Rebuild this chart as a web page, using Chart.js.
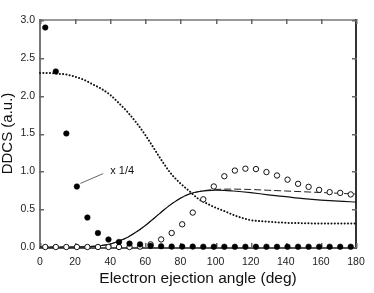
<!DOCTYPE html>
<html>
<head>
<meta charset="utf-8">
<script src="https://cdn.jsdelivr.net/npm/chart.js@4/dist/chart.umd.min.js"></script>
<style>
  html, body { margin: 0; padding: 0; background: #fff; }
</style>
</head>
<body>
<canvas id="ddcsChart" width="374" height="293"></canvas>
<script>
// measured points (every 6 deg)
const dotAngles = [3, 9, 15, 21, 27, 33, 39, 45, 51, 57, 63, 69, 75, 81, 87, 93, 99, 105, 111, 117, 123, 129, 135, 141, 147, 153, 159, 165, 171, 177];
const filledDots = [2.9, 2.32, 1.5, 0.8, 0.39, 0.185, 0.1, 0.066, 0.045, 0.035, 0.015, 0.01, 0.006, 0.005, 0.005, 0.004, 0.004, 0.004, 0.004, 0.004, 0.004, 0.004, 0.004, 0.004, 0.004, 0.004, 0.004, 0.004, 0.004, 0.004];
const openDots = [0, 0, 0, 0, 0, 0, 0, 0, 0, 0.005, 0.035, 0.1, 0.185, 0.3, 0.455, 0.63, 0.8, 0.935, 1.01, 1.035, 1.03, 0.99, 0.945, 0.89, 0.835, 0.795, 0.755, 0.725, 0.715, 0.695];

// theory curves
const lineAngles = [0, 5, 10, 15, 20, 25, 30, 35, 40, 45, 50, 55, 60, 65, 70, 75, 80, 85, 90, 95, 100, 105, 110, 115, 120, 130, 140, 150, 160, 170, 180];
const dottedCurve = [2.30, 2.30, 2.29, 2.28, 2.25, 2.21, 2.15, 2.09, 2.01, 1.90, 1.78, 1.64, 1.48, 1.30, 1.12, 0.96, 0.84, 0.74, 0.64, 0.575, 0.52, 0.475, 0.425, 0.385, 0.355, 0.335, 0.32, 0.315, 0.31, 0.31, 0.31];
const solidCurve = [0, 0, 0, 0, 0, 0.003, 0.008, 0.02, 0.04, 0.08, 0.13, 0.2, 0.285, 0.38, 0.48, 0.57, 0.645, 0.7, 0.73, 0.745, 0.75, 0.748, 0.74, 0.73, 0.718, 0.69, 0.665, 0.64, 0.62, 0.605, 0.595];
const dashedCurve = [0, 0, 0, 0, 0, 0.003, 0.008, 0.02, 0.04, 0.08, 0.13, 0.2, 0.285, 0.38, 0.48, 0.57, 0.645, 0.7, 0.73, 0.75, 0.76, 0.765, 0.765, 0.763, 0.76, 0.75, 0.74, 0.73, 0.72, 0.71, 0.70];

// label pointer "x 1/4"
const pointerX = [23, 36];
const pointerY = [0.84, 0.97];
const noteText = 'x 1/4';
const noteAt = { x: 40, y: 1.0 };

const xTicks = [0, 20, 40, 60, 80, 100, 120, 140, 160, 180];
const yTicks = [0, 0.5, 1.0, 1.5, 2.0, 2.5, 3.0];

const FONT = '"Liberation Sans", Arial, sans-serif';

const zip = (xs, ys) => xs.map((x, i) => ({ x: x, y: ys[i] }));

// box frame with inward ticks on all four sides (under the data), plus the "x 1/4" note
const framePlugin = {
  id: 'frame',
  beforeDatasetsDraw(chart) {
    const ctx = chart.ctx;
    const xs = chart.scales.x, ys = chart.scales.y;
    const l = Math.round(xs.getPixelForValue(0)) - 1;
    const r = Math.round(xs.getPixelForValue(180)) - 1;
    const t = Math.round(ys.getPixelForValue(3)) - 1;
    const b = Math.round(ys.getPixelForValue(0));
    ctx.save();
    ctx.fillStyle = '#999';
    ctx.fillRect(l, t, r - l + 2, 2);
    ctx.fillStyle = '#777';
    ctx.fillRect(l, t, 2, b - t + 2);
    ctx.fillStyle = '#555';
    ctx.fillRect(l, b, r - l + 2, 2);
    ctx.fillStyle = '#333';
    ctx.fillRect(r, t, 2, b - t + 2);
    ctx.fillStyle = '#666';
    xTicks.forEach(v => {
      const px = Math.round(xs.getPixelForValue(v));
      ctx.fillRect(px, t, 1.5, 5);
      ctx.fillRect(px, b - 4, 1.5, 5);
    });
    yTicks.forEach(v => {
      const py = Math.round(ys.getPixelForValue(v));
      ctx.fillRect(l, py, 5, 1.5);
      ctx.fillRect(r - 3, py, 5, 1.5);
    });
    ctx.restore();
  },
  afterDraw(chart) {
    const ctx = chart.ctx;
    ctx.save();
    ctx.fillStyle = '#111';
    ctx.font = '11px ' + FONT;
    ctx.textBaseline = 'middle';
    ctx.fillText(noteText, chart.scales.x.getPixelForValue(noteAt.x), chart.scales.y.getPixelForValue(noteAt.y));
    ctx.restore();
  }
};

new Chart(document.getElementById('ddcsChart').getContext('2d'), {
  type: 'scatter',
  data: {
    datasets: [
      {
        data: zip(lineAngles, dottedCurve), showLine: true, pointRadius: 0,
        borderColor: '#111', borderWidth: 2, borderDash: [0.1, 3.2], borderCapStyle: 'round',
        cubicInterpolationMode: 'monotone', order: 5
      },
      {
        data: zip(lineAngles, dashedCurve), showLine: true, pointRadius: 0,
        borderColor: '#222', borderWidth: 1, borderDash: [7, 3],
        cubicInterpolationMode: 'monotone', order: 4
      },
      {
        data: zip(lineAngles, solidCurve), showLine: true, pointRadius: 0,
        borderColor: '#111', borderWidth: 1.2,
        cubicInterpolationMode: 'monotone', order: 3
      },
      {
        data: zip(pointerX, pointerY), showLine: true, pointRadius: 0,
        borderColor: '#666', borderWidth: 1, order: 6
      },
      {
        data: zip(dotAngles, openDots), pointRadius: 2.7, pointBorderWidth: 1,
        pointBackgroundColor: '#fff', pointBorderColor: '#111', order: 2
      },
      {
        data: zip(dotAngles, filledDots), pointRadius: 2.8, pointBorderWidth: 0.5,
        pointBackgroundColor: '#000', pointBorderColor: '#000', order: 1
      }
    ]
  },
  options: {
    responsive: false,
    animation: false,
    clip: false,
    layout: { padding: { left: 0, right: 18, top: 20, bottom: 0 } },
    plugins: { legend: { display: false }, tooltip: { enabled: false } },
    scales: {
      x: {
        type: 'linear', min: 0, max: 180,
        afterFit(s) { s.height = 46; },
        afterBuildTicks(s) { s.ticks = xTicks.map(v => ({ value: v })); },
        grid: { display: false, drawTicks: false, tickLength: 0 },
        border: { display: false },
        ticks: { color: '#222', font: { family: FONT, size: 10.5 }, padding: 9, maxRotation: 0 },
        title: {
          display: true, text: 'Electron ejection angle (deg)', color: '#111',
          font: { family: FONT, size: 15.5 }, padding: { top: 0, bottom: 4.5 }
        }
      },
      y: {
        min: 0, max: 3,
        afterFit(s) { s.width = 40; },
        afterBuildTicks(s) { s.ticks = yTicks.map(v => ({ value: v })); },
        grid: { display: false, drawTicks: false, tickLength: 0 },
        border: { display: false },
        ticks: { color: '#222', font: { family: FONT, size: 10.5 }, padding: 5, callback: v => v.toFixed(1) },
        title: {
          display: true, text: 'DDCS (a.u.)', color: '#111',
          font: { family: FONT, size: 15, lineHeight: 1 }, padding: { top: 0.5, bottom: 0 }
        }
      }
    }
  },
  plugins: [framePlugin]
});
</script>
</body>
</html>
